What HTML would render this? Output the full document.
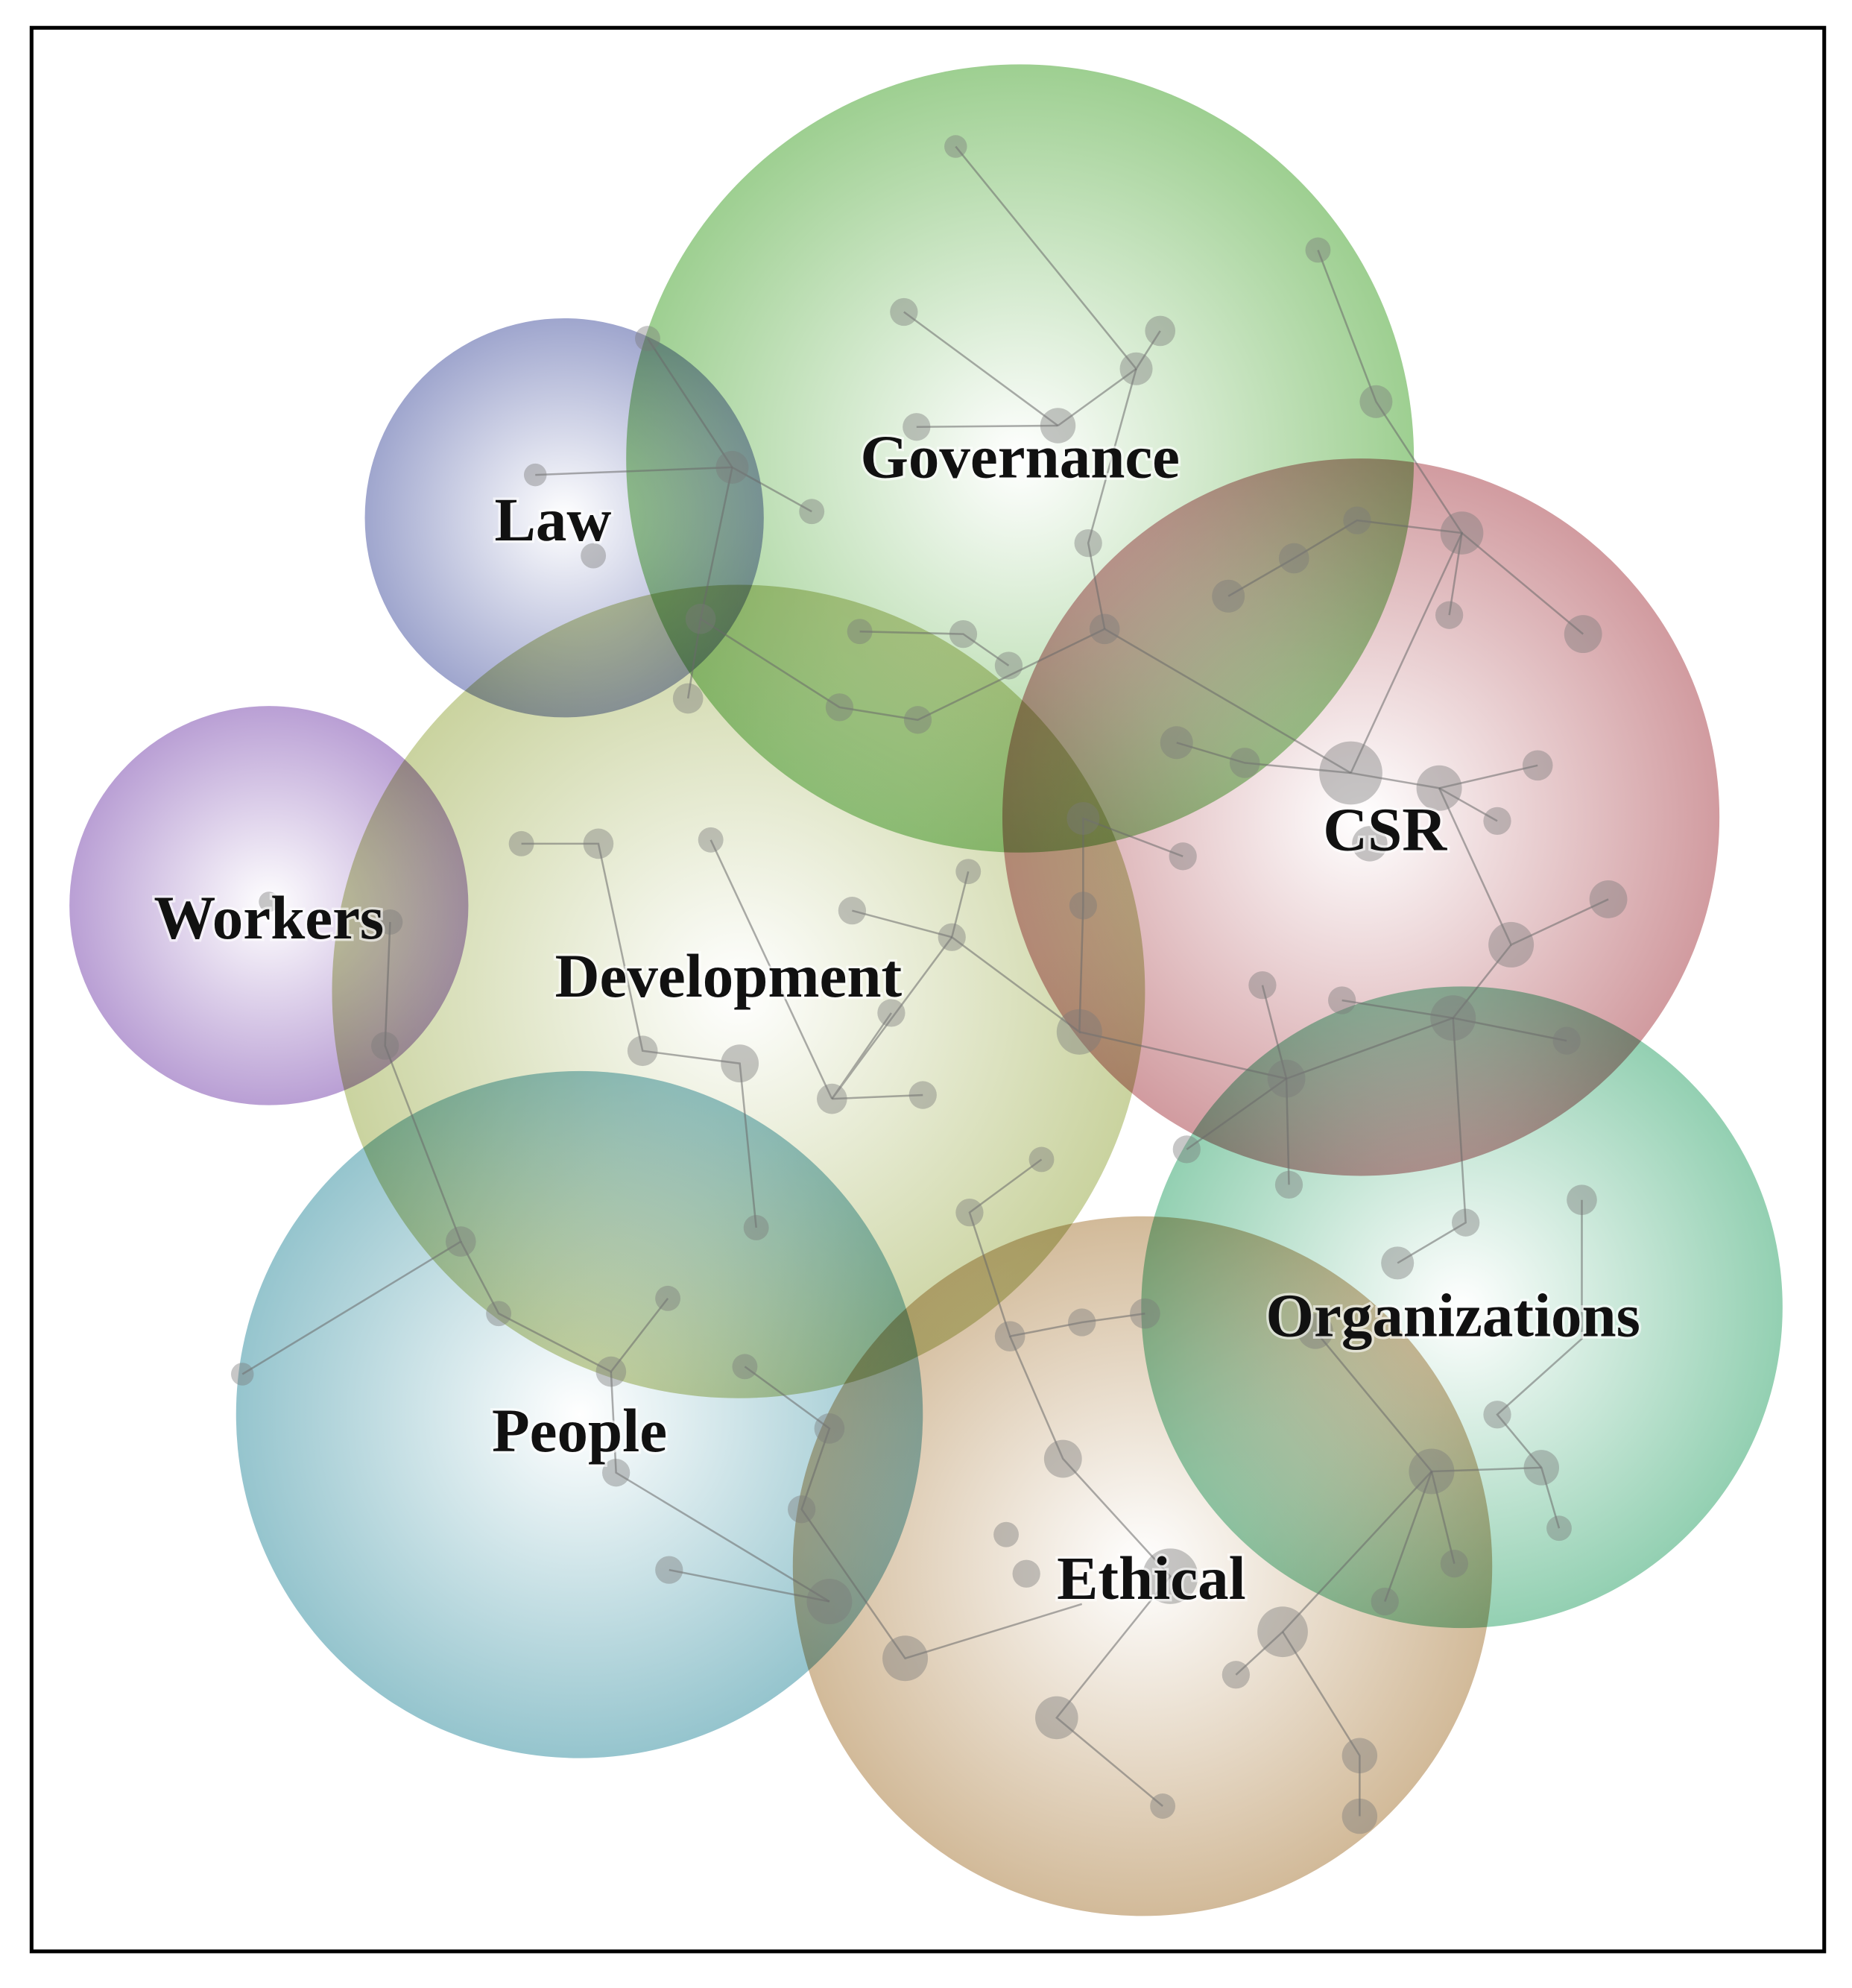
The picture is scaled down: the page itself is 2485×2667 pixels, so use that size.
<!DOCTYPE html>
<html><head><meta charset="utf-8"><style>
html,body{margin:0;padding:0;background:#fff;}
svg{display:block;}
text{font-family:"Liberation Serif",serif;font-weight:bold;font-size:49px;fill:#111;text-anchor:middle;}
.c circle{mix-blend-mode:multiply;}
</style></head><body>
<svg width="2485" height="2667" viewBox="0 0 1467 1574" preserveAspectRatio="none" xmlns="http://www.w3.org/2000/svg">
<defs>
<radialGradient id="gG"><stop offset="0" stop-color="#fff"/><stop offset="1" stop-color="#7dbf6c"/></radialGradient>
<radialGradient id="gL"><stop offset="0" stop-color="#fff"/><stop offset="1" stop-color="#7f88bd"/></radialGradient>
<radialGradient id="gW"><stop offset="0" stop-color="#fff"/><stop offset="1" stop-color="#a27fc6"/></radialGradient>
<radialGradient id="gD"><stop offset="0" stop-color="#fff"/><stop offset="1" stop-color="#b8c47f"/></radialGradient>
<radialGradient id="gC"><stop offset="0" stop-color="#fff"/><stop offset="1" stop-color="#c27a80"/></radialGradient>
<radialGradient id="gO"><stop offset="0" stop-color="#fff"/><stop offset="1" stop-color="#6fc098"/></radialGradient>
<radialGradient id="gP"><stop offset="0" stop-color="#fff"/><stop offset="1" stop-color="#72b1bd"/></radialGradient>
<radialGradient id="gE"><stop offset="0" stop-color="#fff"/><stop offset="1" stop-color="#c3a377"/></radialGradient>
</defs>
<rect x="25" y="22" width="1420" height="1523" fill="#fff" stroke="#000" stroke-width="3"/>
<g class="c" fill-opacity="0.75">
<circle cx="808" cy="363" r="312" fill="url(#gG)"/>
<circle cx="447" cy="410" r="158" fill="url(#gL)"/>
<circle cx="213" cy="717" r="158" fill="url(#gW)"/>
<circle cx="585" cy="785" r="322" fill="url(#gD)"/>
<circle cx="1078" cy="647" r="284" fill="url(#gC)"/>
<circle cx="1158" cy="1035" r="254" fill="url(#gO)"/>
<circle cx="459" cy="1120" r="272" fill="url(#gP)"/>
<circle cx="905" cy="1240" r="277" fill="url(#gE)"/>
</g>
<g stroke="#6a6a6a" stroke-opacity="0.55" stroke-width="1.5" fill="none">
<polyline points="757,116 900,292 919,262"/><line x1="900" y1="292" x2="838" y2="337"/>
<line x1="838" y1="337" x2="716" y2="247"/><line x1="838" y1="337" x2="726" y2="338"/>
<polyline points="900,292 862,430 875,498"/><polyline points="1044,198 1090,318 1158,422"/>
<line x1="513" y1="268" x2="580" y2="370"/><line x1="424" y1="376" x2="580" y2="370"/>
<line x1="580" y1="370" x2="643" y2="405"/><polyline points="580,370 555,490 545,553"/>
<polyline points="555,490 665,560 727,570 875,498 1070,612"/>
<polyline points="681,500 763,502 799,527"/>
<polyline points="973,472 1025,442 1075,412 1158,422 1148,487"/>
<line x1="1158" y1="422" x2="1254" y2="502"/><line x1="1158" y1="422" x2="1070" y2="612"/>
<polyline points="932,588 986,604 1070,612 1140,624 1218,606"/>
<line x1="1140" y1="624" x2="1186" y2="650"/>
<polyline points="1140,624 1197,748 1274,712"/><polyline points="1197,748 1151,806 1063,792"/>
<line x1="1151" y1="806" x2="1241" y2="824"/><line x1="1151" y1="806" x2="1019" y2="854"/>
<polyline points="1000,780 1019,854 1021,938"/><line x1="1019" y1="854" x2="940" y2="910"/>
<line x1="855" y1="817" x2="1019" y2="854"/>
<polyline points="937,678 858,648 858,717 855,817 754,742 767,690"/>
<line x1="754" y1="742" x2="675" y2="721"/><polyline points="754,742 659,870 706,802"/>
<line x1="659" y1="870" x2="731" y2="867"/><line x1="659" y1="870" x2="563" y2="665"/>
<polyline points="413,668 474,668 509,832 586,842 599,972"/>
<polyline points="309,730 305,828 365,983 192,1088"/>
<polyline points="365,983 395,1040 484,1086 529,1028"/>
<polyline points="484,1086 488,1166 657,1268"/><line x1="530" y1="1243" x2="657" y2="1268"/>
<polyline points="590,1082 657,1131 635,1195 717,1313 857,1270"/>
<polyline points="1151,806 1161,968 1107,1000"/>
<polyline points="1253,950 1253,1060 1186,1120 1221,1162 1235,1210"/>
<line x1="1221" y1="1162" x2="1134" y2="1165"/>
<line x1="1134" y1="1165" x2="1042" y2="1054"/><line x1="1134" y1="1165" x2="1152" y2="1238"/>
<line x1="1134" y1="1165" x2="1097" y2="1268"/><polyline points="1134,1165 1016,1292 979,1326"/>
<polyline points="1016,1292 1077,1390 1077,1438"/>
<polyline points="825,918 768,960 800,1058 857,1047 907,1040"/>
<polyline points="800,1058 842,1155 927,1248 837,1360 921,1430"/>
</g>
<g fill="#7a7a7a" fill-opacity="0.42">
<circle cx="757" cy="116" r="9"/><circle cx="1044" cy="198" r="10"/><circle cx="716" cy="247" r="11"/><circle cx="919" cy="262" r="12"/><circle cx="900" cy="292" r="13"/><circle cx="838" cy="337" r="14"/><circle cx="726" cy="338" r="11"/><circle cx="1090" cy="318" r="13"/><circle cx="862" cy="430" r="11"/><circle cx="513" cy="268" r="10"/><circle cx="580" cy="370" r="13"/><circle cx="643" cy="405" r="10"/><circle cx="424" cy="376" r="9"/><circle cx="470" cy="440" r="10"/><circle cx="555" cy="490" r="12"/><circle cx="545" cy="553" r="12"/><circle cx="681" cy="500" r="10"/><circle cx="763" cy="502" r="11"/><circle cx="799" cy="527" r="11"/><circle cx="875" cy="498" r="12"/><circle cx="665" cy="560" r="11"/><circle cx="727" cy="570" r="11"/>
<circle cx="1075" cy="412" r="11"/><circle cx="1025" cy="442" r="12"/><circle cx="973" cy="472" r="13"/><circle cx="1158" cy="422" r="17"/><circle cx="1148" cy="487" r="11"/><circle cx="1254" cy="502" r="15"/><circle cx="932" cy="588" r="13"/><circle cx="986" cy="604" r="12"/><circle cx="1070" cy="612" r="25"/><circle cx="1140" cy="624" r="18"/><circle cx="1218" cy="606" r="12"/><circle cx="1186" cy="650" r="11"/><circle cx="1085" cy="668" r="14"/><circle cx="937" cy="678" r="11"/><circle cx="858" cy="648" r="13"/><circle cx="1274" cy="712" r="15"/><circle cx="1197" cy="748" r="18"/><circle cx="1000" cy="780" r="11"/><circle cx="1063" cy="792" r="11"/><circle cx="1151" cy="806" r="18"/><circle cx="1241" cy="824" r="11"/><circle cx="1019" cy="854" r="15"/><circle cx="855" cy="817" r="18"/><circle cx="858" cy="717" r="11"/>
<circle cx="413" cy="668" r="10"/><circle cx="474" cy="668" r="12"/><circle cx="563" cy="665" r="10"/><circle cx="767" cy="690" r="10"/><circle cx="675" cy="721" r="11"/><circle cx="754" cy="742" r="11"/><circle cx="706" cy="802" r="11"/><circle cx="509" cy="832" r="12"/><circle cx="586" cy="842" r="15"/><circle cx="659" cy="870" r="12"/><circle cx="731" cy="867" r="11"/><circle cx="309" cy="730" r="10"/><circle cx="213" cy="714" r="8"/><circle cx="305" cy="828" r="11"/><circle cx="599" cy="972" r="10"/><circle cx="825" cy="918" r="10"/><circle cx="768" cy="960" r="11"/>
<circle cx="940" cy="910" r="11"/><circle cx="1021" cy="938" r="11"/><circle cx="1161" cy="968" r="11"/><circle cx="1253" cy="950" r="12"/><circle cx="1107" cy="1000" r="13"/><circle cx="1042" cy="1054" r="14"/><circle cx="1186" cy="1120" r="11"/><circle cx="1221" cy="1162" r="14"/><circle cx="1134" cy="1165" r="18"/><circle cx="1235" cy="1210" r="10"/><circle cx="1152" cy="1238" r="11"/><circle cx="1097" cy="1268" r="11"/>
<circle cx="907" cy="1040" r="12"/><circle cx="857" cy="1047" r="11"/><circle cx="800" cy="1058" r="12"/><circle cx="842" cy="1155" r="15"/><circle cx="797" cy="1215" r="10"/><circle cx="813" cy="1246" r="11"/><circle cx="927" cy="1248" r="22"/><circle cx="1016" cy="1292" r="20"/><circle cx="979" cy="1326" r="11"/><circle cx="717" cy="1313" r="18"/><circle cx="837" cy="1360" r="17"/><circle cx="921" cy="1430" r="10"/><circle cx="1077" cy="1390" r="14"/><circle cx="1077" cy="1438" r="14"/>
<circle cx="365" cy="983" r="12"/><circle cx="395" cy="1040" r="10"/><circle cx="529" cy="1028" r="10"/><circle cx="484" cy="1086" r="12"/><circle cx="590" cy="1082" r="10"/><circle cx="192" cy="1088" r="9"/><circle cx="657" cy="1131" r="12"/><circle cx="488" cy="1166" r="11"/><circle cx="635" cy="1195" r="11"/><circle cx="530" cy="1243" r="11"/><circle cx="657" cy="1268" r="18"/>
</g>
<g stroke="#fff" stroke-width="4" stroke-opacity="0.6" paint-order="stroke">
<text x="808" y="378">Governance</text>
<text x="438" y="428">Law</text>
<text x="213" y="743">Workers</text>
<text x="577" y="789">Development</text>
<text x="1097" y="673">CSR</text>
<text x="1151" y="1058">Organizations</text>
<text x="459" y="1149">People</text>
<text x="912" y="1266">Ethical</text>
</g>
</svg>
</body></html>
